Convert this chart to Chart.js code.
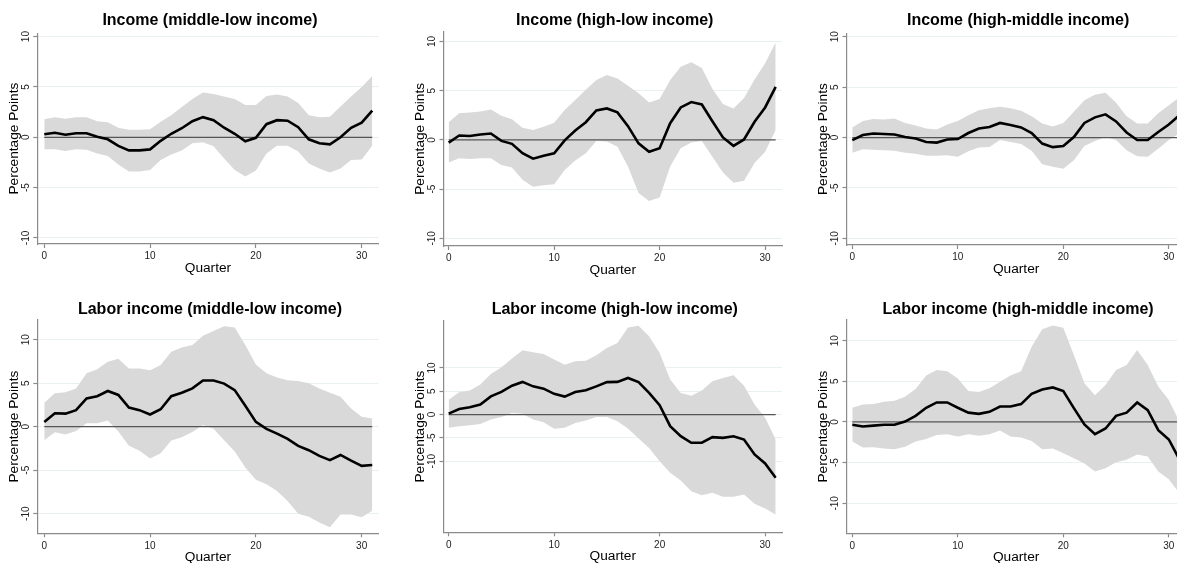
<!DOCTYPE html>
<html>
<head>
<meta charset="utf-8">
<script src="https://cdn.jsdelivr.net/npm/chart.js@4.4.1/dist/chart.umd.min.js"></script>
<style>
  html, body { margin: 0; padding: 0; background: #fff; width: 1177px; height: 563px; overflow: hidden; }
  canvas { position: absolute; }
</style>
</head>
<body>
<canvas id="p1"></canvas>
<canvas id="p2"></canvas>
<canvas id="p3"></canvas>
<canvas id="p4"></canvas>
<canvas id="p5"></canvas>
<canvas id="p6"></canvas>
<script>
// quarters after the shock and axis ticks
var quarters = [0, 1, 2, 3, 4, 5, 6, 7, 8, 9, 10, 11, 12, 13, 14, 15, 16, 17, 18, 19, 20, 21, 22, 23, 24, 25, 26, 27, 28, 29, 30, 31];
var xTicks = [0, 10, 20, 30];
var yTicks = [-10, -5, 0, 5, 10];
var zeroLevel = 0;

// Income (middle-low income)
var incMidLow   = [0.3, 0.45, 0.25, 0.4, 0.4, 0.05, -0.2, -0.85, -1.3, -1.3, -1.2, -0.35, 0.35, 0.9, 1.6, 2.0, 1.7, 0.95, 0.35, -0.4, -0.05, 1.3, 1.7, 1.65, 1.0, -0.2, -0.6, -0.7, 0.0, 0.95, 1.45, 2.65];
var incMidLowHi = [1.8, 2.0, 1.85, 2.0, 2.0, 1.6, 1.5, 0.95, 0.75, 0.75, 0.8, 1.55, 2.2, 3.0, 3.8, 4.45, 4.3, 4.05, 3.8, 3.2, 3.2, 4.1, 4.25, 4.05, 3.4, 2.2, 2.0, 2.05, 3.05, 4.05, 5.0, 6.1];
var incMidLowLo = [-1.2, -1.2, -1.35, -1.2, -1.25, -1.6, -1.85, -2.7, -3.4, -3.4, -3.25, -2.25, -1.7, -1.3, -0.6, -0.5, -0.9, -2.1, -3.25, -3.9, -3.3, -1.6, -0.85, -0.85, -1.4, -2.6, -3.1, -3.5, -3.1, -2.25, -2.2, -0.85];

// Income (high-low income)
var incHighLow   = [-0.27, 0.45, 0.4, 0.55, 0.65, -0.1, -0.4, -1.35, -1.9, -1.6, -1.35, -0.05, 0.95, 1.8, 3.0, 3.2, 2.8, 1.4, -0.35, -1.2, -0.85, 1.7, 3.3, 3.85, 3.6, 1.9, 0.25, -0.6, 0.05, 1.85, 3.3, 5.4];
var incHighLowHi = [1.8, 2.7, 2.8, 2.9, 3.1, 2.45, 2.1, 1.25, 1.0, 1.35, 1.75, 3.05, 4.05, 5.1, 6.1, 6.6, 6.25, 5.5, 4.75, 3.8, 4.15, 6.1, 7.45, 7.9, 7.3, 5.2, 3.65, 3.2, 4.25, 6.15, 7.8, 9.9];
var incHighLowLo = [-2.3, -1.85, -1.95, -1.85, -1.85, -2.55, -2.8, -4.05, -4.75, -4.6, -4.5, -3.05, -2.1, -1.35, -0.1, -0.15, -0.7, -2.7, -5.4, -6.2, -5.85, -2.7, -0.85, -0.25, -0.1, -1.7, -3.3, -4.35, -4.15, -2.35, -1.2, 1.0];

// Income (high-middle income)
var incHighMid   = [-0.25, 0.25, 0.4, 0.35, 0.3, 0.05, -0.1, -0.45, -0.5, -0.2, -0.15, 0.45, 0.9, 1.05, 1.45, 1.25, 1.0, 0.45, -0.6, -0.95, -0.85, 0.05, 1.45, 2.0, 2.3, 1.6, 0.5, -0.25, -0.25, 0.55, 1.3, 2.2];
var incHighMidHi = [1.0, 1.65, 1.85, 1.8, 1.9, 1.45, 1.2, 0.9, 0.8, 1.3, 1.65, 2.2, 2.7, 2.9, 3.05, 2.9, 2.65, 2.1, 1.4, 1.1, 1.45, 2.55, 3.7, 4.25, 4.45, 3.45, 2.1, 1.4, 1.4, 2.4, 3.2, 4.0];
var incHighMidLo = [-1.5, -1.15, -1.2, -1.25, -1.3, -1.5, -1.6, -1.8, -1.8, -1.75, -1.9, -1.35, -1.0, -0.95, -0.25, -0.45, -0.65, -1.3, -2.65, -2.9, -3.1, -2.25, -0.85, -0.35, 0.05, -0.25, -1.25, -1.85, -1.9, -1.1, -0.25, 0.4];

// Labor income (middle-low income)
var labMidLow   = [0.55, 1.55, 1.5, 1.9, 3.25, 3.5, 4.1, 3.65, 2.2, 1.9, 1.4, 2.0, 3.5, 3.9, 4.4, 5.3, 5.3, 4.95, 4.2, 2.4, 0.55, -0.25, -0.8, -1.4, -2.2, -2.7, -3.35, -3.85, -3.25, -3.9, -4.5, -4.4];
var labMidLowHi = [2.75, 3.85, 3.95, 4.4, 6.15, 6.6, 7.45, 7.8, 6.7, 6.7, 6.5, 7.1, 8.6, 9.1, 9.4, 10.45, 11.0, 11.55, 11.4, 9.4, 7.15, 6.15, 5.65, 5.35, 5.25, 5.0, 4.4, 3.9, 3.45, 2.1, 1.15, 0.95];
var labMidLowLo = [-1.55, -0.65, -0.9, -0.5, 0.4, 0.4, 0.7, -0.55, -2.2, -2.75, -3.65, -3.05, -1.6, -1.2, -0.6, 0.2, -0.25, -1.55, -2.85, -4.7, -6.1, -6.6, -7.4, -8.55, -10.0, -10.35, -11.0, -11.55, -10.1, -10.1, -10.4, -9.65];

// Labor income (high-low income)
var labHighLow   = [0.2, 1.2, 1.55, 2.15, 3.9, 4.85, 6.2, 7.0, 6.05, 5.55, 4.45, 3.85, 4.85, 5.2, 6.05, 6.95, 7.0, 7.85, 6.95, 4.65, 2.0, -2.5, -4.65, -6.05, -6.05, -4.85, -5.0, -4.65, -5.35, -8.55, -10.5, -13.55];
var labHighLowHi = [3.2, 4.8, 5.15, 6.45, 8.7, 10.15, 12.0, 13.8, 13.35, 13.0, 11.8, 10.7, 11.45, 11.55, 12.7, 14.3, 15.35, 18.7, 19.05, 16.8, 13.2, 7.5, 4.65, 4.05, 5.15, 7.15, 7.85, 8.45, 6.2, 2.15, -0.7, -5.35];
var labHighLowLo = [-2.85, -2.5, -2.3, -2.0, -1.05, -0.55, 0.35, 0.15, -1.05, -1.65, -3.05, -2.85, -1.8, -1.3, -0.5, -0.5, -1.45, -3.0, -5.15, -7.15, -10.0, -12.5, -14.15, -16.45, -17.3, -16.8, -17.65, -17.65, -17.15, -19.15, -20.15, -21.45];

// Labor income (high-middle income)
var labHighMid   = [-0.35, -0.55, -0.45, -0.35, -0.35, 0.05, 0.75, 1.75, 2.4, 2.4, 1.75, 1.15, 1.0, 1.25, 1.9, 1.9, 2.2, 3.45, 4.0, 4.25, 3.8, 1.7, -0.3, -1.5, -0.8, 0.75, 1.15, 2.4, 1.45, -1.0, -2.15, -4.6];
var labHighMidHi = [1.75, 2.15, 2.2, 2.5, 2.6, 3.1, 4.05, 5.7, 6.4, 6.25, 5.35, 3.8, 3.7, 4.15, 4.95, 5.7, 6.25, 9.25, 11.4, 11.85, 11.6, 8.25, 4.75, 3.3, 4.55, 6.4, 7.0, 8.85, 7.0, 4.35, 2.7, 0.05];
var labHighMidLo = [-2.4, -3.15, -3.1, -3.25, -3.35, -3.05, -2.4, -2.1, -1.6, -1.5, -1.8, -1.5, -1.7, -1.5, -1.05, -1.8, -1.9, -2.35, -3.35, -3.25, -3.85, -4.45, -5.1, -6.1, -5.7, -4.95, -4.65, -4.0, -4.25, -6.1, -7.05, -8.75];

var FONT = '"Liberation Sans", Arial, sans-serif';

// canvas box, plot box (page pixels) and axis ranges for each panel
var panels = [
    { id: 'p1', title: 'Income (middle-low income)', est: incMidLow, hi: incMidLowHi, lo: incMidLowLo,
      box: [0, 0, 392, 282], area: [37.3, 33.3, 378.6, 244], x: [-0.66, 31.6], y: [-10.6, 10.33], titleY: 20.7 },
    { id: 'p2', title: 'Income (high-low income)', est: incHighLow, hi: incHighLowHi, lo: incHighLowLo,
      box: [392, 0, 392, 282], area: [443.5, 31.7, 782, 246], x: [-0.49, 31.6], y: [-10.78, 11.0], titleY: 20.7 },
    { id: 'p3', title: 'Income (high-middle income)', est: incHighMid, hi: incHighMidHi, lo: incHighMidLo,
      box: [784, 0, 410, 282], area: [846.5, 33.3, 1185.7, 245], x: [-0.55, 31.6], y: [-10.66, 10.34], titleY: 20.7 },
    { id: 'p4', title: 'Labor income (middle-low income)', est: labMidLow, hi: labMidLowHi, lo: labMidLowLo,
      box: [0, 285, 392, 278], area: [37.3, 320, 378.6, 533.3], x: [-0.66, 31.6], y: [-12.25, 12.26], titleY: 25 },
    { id: 'p5', title: 'Labor income (high-low income)', est: labHighLow, hi: labHighLowHi, lo: labHighLowLo,
      box: [392, 285, 392, 278], area: [443.5, 321, 782, 532.3], x: [-0.49, 31.6], y: [-25.26, 20.07], titleY: 25 },
    { id: 'p6', title: 'Labor income (high-middle income)', est: labHighMid, hi: labHighMidHi, lo: labHighMidLo,
      box: [784, 285, 410, 278], area: [846.5, 320, 1185.7, 533.3], x: [-0.55, 31.6], y: [-13.69, 12.54], titleY: 25 }
];

function points(values) {
    return quarters.map(function (q, i) { return { x: q, y: values[i] }; });
}

// titles, axis titles and rotated tick labels
var panelText = {
    id: 'panelText',
    afterDraw: function (chart, args, opts) {
        var ctx = chart.ctx;
        var a = chart.chartArea;
        var xs = chart.scales.x, ys = chart.scales.y;
        ctx.save();
        ctx.textAlign = 'center';
        ctx.textBaseline = 'middle';
        ctx.fillStyle = '#000';
        ctx.font = 'bold 16px ' + FONT;
        ctx.fillText(opts.title, (a.left + a.right) / 2 + 2, opts.titleY);

        ctx.fillStyle = '#222';
        ctx.font = '10px ' + FONT;
        xTicks.forEach(function (v) {
            ctx.fillText(String(v), xs.getPixelForValue(v), a.bottom + 12.6);
        });
        yTicks.forEach(function (v) {
            ctx.save();
            ctx.translate(a.left - 11, ys.getPixelForValue(v));
            ctx.rotate(-Math.PI / 2);
            ctx.fillText(String(v), 0, 0);
            ctx.restore();
        });

        ctx.fillStyle = '#000';
        ctx.font = '13.7px ' + FONT;
        ctx.fillText('Quarter', (a.left + a.right) / 2, a.bottom + 24.4);
        ctx.save();
        ctx.translate(a.left - 23.5, (a.top + a.bottom) / 2);
        ctx.rotate(-Math.PI / 2);
        ctx.fillText('Percentage Points', 0, 0);
        ctx.restore();
        ctx.restore();
    }
};

panels.forEach(function (p) {
    var canvas = document.getElementById(p.id);
    canvas.width = p.box[2];
    canvas.height = p.box[3];
    canvas.style.left = p.box[0] + 'px';
    canvas.style.top = p.box[1] + 'px';

    new Chart(canvas.getContext('2d'), {
        type: 'line',
        data: {
            datasets: [
                { data: points(p.est), borderColor: '#000', borderWidth: 2.6, pointRadius: 0, tension: 0, fill: false },
                { data: quarters.map(function (q) { return { x: q, y: zeroLevel }; }),
                  borderColor: '#555', borderWidth: 1.2, pointRadius: 0, fill: false },
                { data: points(p.hi), borderWidth: 0, borderColor: 'rgba(0,0,0,0)', pointRadius: 0,
                  backgroundColor: '#d9d9d9', fill: '+1', tension: 0 },
                { data: points(p.lo), borderWidth: 0, borderColor: 'rgba(0,0,0,0)', pointRadius: 0, fill: false, tension: 0 }
            ]
        },
        options: {
            responsive: false,
            animation: false,
            events: [],
            layout: {
                autoPadding: false,
                padding: {
                    left: p.area[0] - p.box[0],
                    top: p.area[1] - p.box[1],
                    right: p.box[0] + p.box[2] - p.area[2],
                    bottom: p.box[1] + p.box[3] - p.area[3]
                }
            },
            plugins: {
                legend: { display: false },
                tooltip: { enabled: false },
                panelText: { title: p.title, titleY: p.titleY }
            },
            scales: {
                x: {
                    type: 'linear', min: p.x[0], max: p.x[1],
                    afterBuildTicks: function (s) { s.ticks = xTicks.map(function (v) { return { value: v }; }); },
                    afterFit: function (s) { s.height = 0; },
                    ticks: { display: false },
                    grid: { drawOnChartArea: false, drawTicks: true, tickLength: 4, tickColor: '#8a8a8a', tickWidth: 1.2 },
                    border: { color: '#8a8a8a', width: 1.2 }
                },
                y: {
                    type: 'linear', min: p.y[0], max: p.y[1],
                    afterBuildTicks: function (s) { s.ticks = yTicks.map(function (v) { return { value: v }; }); },
                    afterFit: function (s) { s.width = 0; },
                    ticks: { display: false },
                    grid: { color: '#e9f0f1', lineWidth: 1, drawTicks: true, tickLength: 4, tickColor: '#8a8a8a', tickWidth: 1.2 },
                    border: { color: '#8a8a8a', width: 1.2 }
                }
            }
        },
        plugins: [panelText]
    });
});
</script>
</body>
</html>
